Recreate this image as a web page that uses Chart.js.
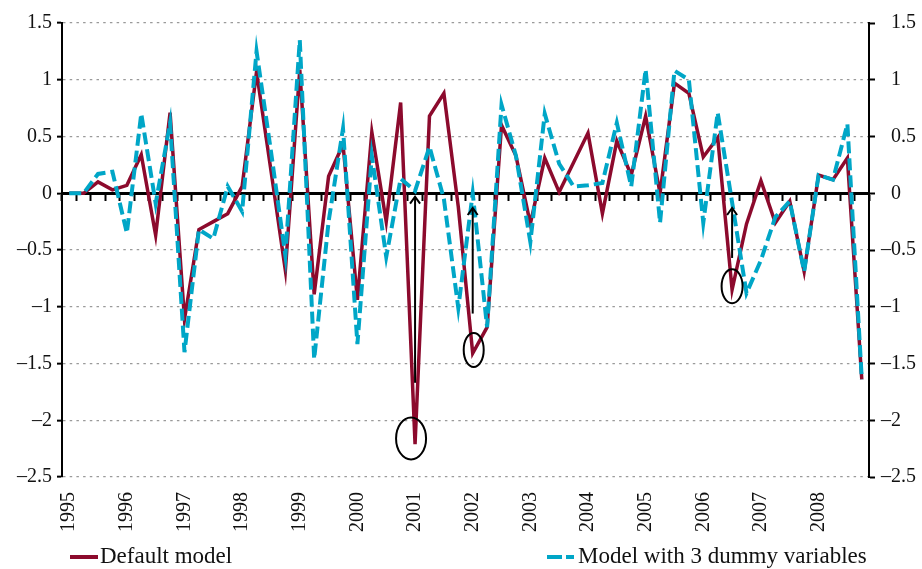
<!DOCTYPE html>
<html>
<head>
<meta charset="utf-8">
<script src="https://cdn.jsdelivr.net/npm/chart.js@4/dist/chart.umd.min.js"></script>
<style>
body{margin:0;background:#fff;}
#wrap{position:relative;width:922px;height:569px;}
.leg{position:absolute;top:542px;font-family:"Liberation Serif",serif;font-size:23px;color:#111;line-height:28px;white-space:nowrap;}
.sw{position:absolute;height:4px;}
</style>
</head>
<body>
<div id="wrap">
<canvas id="chart" width="922" height="569"></canvas>
<div id="legend"></div>
</div>
<script>
// quarterly data, 1995 Q1 .. 2008 Q4
const years = [1995,1996,1997,1998,1999,2000,2001,2002,2003,2004,2005,2006,2007,2008];
const quarters = years.flatMap(y => ['Q1','Q2','Q3','Q4'].map(q => y + ' ' + q));

const defaultModel = [
  0, 0, 0.10, 0.03,   0.07, 0.34, -0.37, 0.71,   -1.11, -0.32, -0.25, -0.18,
  0.06, 1.07, 0.20, -0.68,   1.09, -0.89, 0.15, 0.43,   -0.94, 0.54, -0.25, 0.80,
  -2.21, 0.68, 0.88, -0.12,   -1.41, -1.18, 0.60, 0.33,   -0.27, 0.31, 0.01, 0.27,
  0.53, -0.18, 0.46, 0.16,   0.68, 0.00, 0.97, 0.88,   0.32, 0.49, -0.85, -0.27,
  0.11, -0.26, -0.07, -0.69,   0.16, 0.12, 0.31, -1.64
];
const dummyModel = [
  0, 0, 0.17, 0.19,   -0.35, 0.70, -0.09, 0.62,   -1.40, -0.32, -0.40, 0.06,
  -0.16, 1.25, 0.37, -0.55,   1.35, -1.46, -0.25, 0.57,   -1.33, 0.33, -0.56, 0.13,
  0.02, 0.41, -0.05, -1.01,   0.00, -1.18, 0.78, 0.33,   -0.43, 0.70, 0.26, 0.06,
  0.07, 0.09, 0.62, 0.06,   1.09, -0.26, 1.08, 1.00,   -0.26, 0.71, -0.08, -0.88,
  -0.59, -0.21, -0.07, -0.69,   0.16, 0.12, 0.61, -1.64
];

// annotations (quarter index, values on the y scale)
const arrows = [
  {index: 24, from: -1.67, to: -0.03},
  {index: 28, from: -1.06, to: -0.13},
  {index: 46, from: -0.57, to: -0.13}
];
const circles = [
  {index: 24, value: -2.16},
  {index: 28, value: -1.38},
  {index: 46, value: -0.82}
];

const RED = '#8c0a2d';
const BLUE = '#00a6c7';
const font = {family: '"Liberation Serif", serif', size: 20};

const fmt = v => v < 0 ? '\u2013' + String(-v) : String(v);
// right side: minus sign hangs to the left of the digits
const fmtRight = v => v < 0 ? '\u2013' + String(-v) : '\u2002' + String(v);

const markers = {
  id: 'markers',
  afterDatasetsDraw(chart) {
    const {ctx} = chart;
    const x = chart.scales.x, y = chart.scales.y;
    const sizes = [[15, 21, -4], [10, 17, 1], [10.5, 17, 0]];
    ctx.save();
    ctx.strokeStyle = '#000';
    ctx.lineWidth = 2;
    arrows.forEach(a => {
      const px = x.getPixelForValue(a.index);
      const y1 = y.getPixelForValue(a.from);
      const y2 = y.getPixelForValue(a.to);
      ctx.beginPath();
      ctx.moveTo(px, y1);
      ctx.lineTo(px, y2);
      ctx.stroke();
      ctx.beginPath();
      ctx.moveTo(px - 5, y2 + 7);
      ctx.lineTo(px, y2);
      ctx.lineTo(px + 5, y2 + 7);
      ctx.stroke();
    });
    circles.forEach((c, k) => {
      const s = sizes[k];
      ctx.beginPath();
      ctx.ellipse(x.getPixelForValue(c.index) + s[2], y.getPixelForValue(c.value), s[0], s[1], 0, 0, Math.PI * 2);
      ctx.stroke();
    });
    ctx.restore();
  }
};

const gridColor = c => (c.tick && c.tick.value === 0) ? 'rgba(0,0,0,0)' : '#9a9a9a';

new Chart(document.getElementById('chart'), {
  type: 'line',
  data: {
    labels: quarters,
    datasets: [
      {label: 'Default model', data: defaultModel, borderColor: RED, backgroundColor: RED,
       borderWidth: 3.5, pointRadius: 0, tension: 0, order: 1},
      {label: 'Model with 3 dummy variables', data: dummyModel, borderColor: BLUE, backgroundColor: BLUE,
       borderWidth: 4, borderDash: [12, 5], pointRadius: 0, tension: 0, order: 0}
    ]
  },
  options: {
    responsive: false,
    animation: false,
    devicePixelRatio: 1,
    layout: {padding: {top: 23, left: 0, right: 0, bottom: 0}},
    plugins: {legend: {display: false}, tooltip: {enabled: false}},
    scales: {
      x: {
        type: 'category',
        offset: true,
        grid: {display: false},
        border: {display: false},
        ticks: {
          autoSkip: false, minRotation: 90, maxRotation: 90, padding: 7,
          color: '#111', font: font,
          callback: (v, i) => i % 4 === 0 ? String(years[i / 4]) : ''
        },
        afterFit: s => { s.height = 92; }
      },
      x2: {
        type: 'category',
        offset: true,
        position: {y: 0},
        grid: {offset: true, drawOnChartArea: false, drawTicks: true, tickLength: 6, tickWidth: 2, tickColor: '#000'},
        border: {display: true, color: '#000', width: 3},
        ticks: {display: false, autoSkip: false}
      },
      y: {
        position: 'left',
        min: -2.5, max: 1.5,
        ticks: {stepSize: 0.5, padding: 5, color: '#111', font: font, callback: fmt},
        grid: {color: gridColor, lineWidth: 1.3, tickLength: 5, tickWidth: 2, tickColor: '#000'},
        border: {display: true, color: '#000', width: 2, dash: [2.5, 4.2]},
        afterFit: s => { s.width = 62; }
      },
      y2: {
        position: 'right',
        min: -2.5, max: 1.5,
        ticks: {stepSize: 0.5, padding: 6, color: '#111', font: font, callback: fmtRight},
        grid: {drawOnChartArea: false, tickLength: 6, tickWidth: 2, tickColor: '#000'},
        border: {display: true, color: '#000', width: 2},
        afterFit: s => { s.width = 53; }
      }
    }
  },
  plugins: [markers]
});

// legend below the plot
const legend = document.getElementById('legend');
legend.innerHTML =
  '<div class="sw" style="left:70px;top:555px;width:28px;background:' + RED + '"></div>' +
  '<div class="leg" style="left:100px">Default model</div>' +
  '<div class="sw" style="left:547px;top:555px;width:15px;background:' + BLUE + '"></div>' +
  '<div class="sw" style="left:566px;top:555px;width:8px;background:' + BLUE + '"></div>' +
  '<div class="leg" style="left:578px">Model with 3 dummy variables</div>';
</script>
</body>
</html>
